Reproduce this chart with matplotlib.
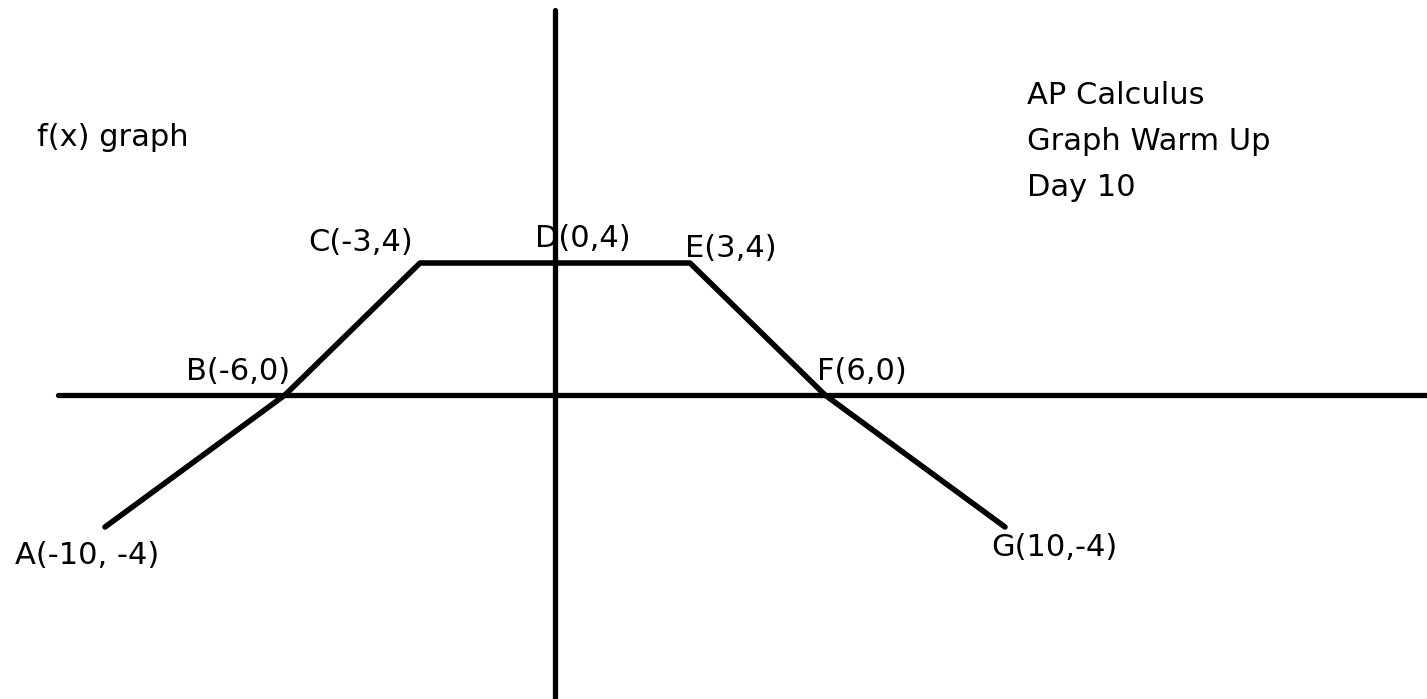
import matplotlib
matplotlib.use("Agg")
import matplotlib.pyplot as plt

# labelled vertices of the piecewise-linear f(x)
point_names = ["A", "B", "C", "D", "E", "F", "G"]
x_vals = [-10, -6, -3, 0, 3, 6, 10]
y_vals = [-4, 0, 4, 4, 4, 0, -4]
point_labels = ["A(-10, -4)", "B(-6,0)", "C(-3,4)", "D(0,4)",
                "E(3,4)", "F(6,0)", "G(10,-4)"]

# label offsets in pixels from each vertex, and alignment
label_offsets = [(-90, -28), (5, 23), (-7, 20), (-20, 24),
                 (-5, 14), (-8, 23), (-14, -20)]
label_ha = ["left", "right", "right", "left", "left", "left", "left"]

title_lines = ["AP Calculus", "Graph Warm Up", "Day 10"]

plt.rcParams["font.family"] = ["DejaVu Sans"]

fig = plt.figure(figsize=(14.27, 6.99), dpi=100)
ax = fig.add_axes([0, 0, 1, 1])

# 45 px per x unit, 33 px per y unit, origin at (555, 395) px
ax.set_xlim(-555 / 45, 872 / 45)
ax.set_ylim(-(699 - 395) / 33, 395 / 33)
ax.axis("off")

# coordinate axes
ax.plot([-497 / 45, 872 / 45], [0, 0], color="black", linewidth=3.8,
        solid_capstyle="round")
ax.plot([0, 0], [-(699 - 395) / 33, 385 / 33], color="black", linewidth=3.8,
        solid_capstyle="round")

# the graph
ax.plot(x_vals, y_vals, color="black", linewidth=4.0,
        solid_capstyle="round", solid_joinstyle="round")

for xv, yv, lab, off, ha in zip(x_vals, y_vals, point_labels,
                                label_offsets, label_ha):
    ax.annotate(lab, (xv, yv), xytext=off, textcoords="offset pixels",
                ha=ha, va="center", fontsize=22)

fig.text(37 / 1427, 1 - 138 / 699, "f(x) graph", ha="left", va="center",
         fontsize=22)
for i, line in enumerate(title_lines):
    fig.text(1027 / 1427, 1 - (96 + 46 * i) / 699, line, ha="left",
             va="center", fontsize=22)

fig.savefig("out.png", dpi=100)
